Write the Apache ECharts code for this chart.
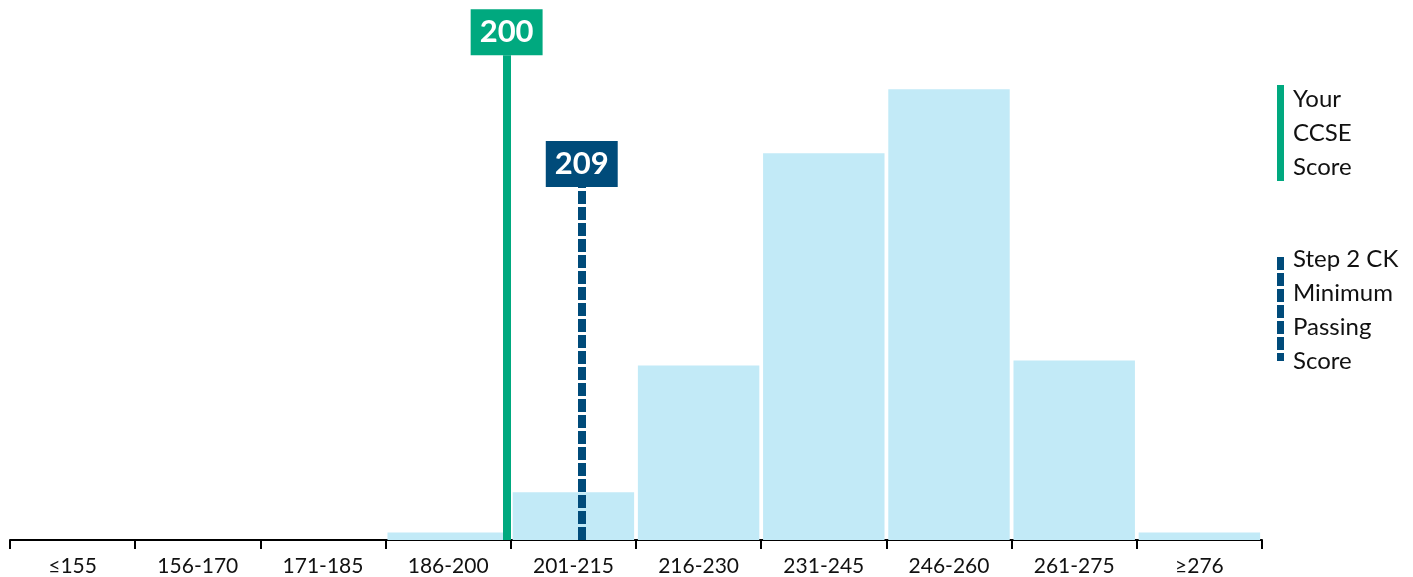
<!DOCTYPE html>
<html>
<head>
<meta charset="utf-8">
<script src="https://cdn.jsdelivr.net/npm/echarts@6/dist/echarts.min.js"></script>
<style>html,body{margin:0;padding:0;background:#fff}#c{width:1413px;height:577px}</style>
</head>
<body>
<div id="c"></div>
<script>
const categories = ['≤155','156-170','171-185','186-200','201-215','216-230','231-245','246-260','261-275','≥276'];
const percentages = [0,0,0,0.6,3.8,13.9,30.8,35.9,14.3,0.6];
const yourScore = 200;
const passingScore = 209;
const legendYour = 'Your\nCCSE\nScore';
const legendPassing = 'Step 2 CK\nMinimum\nPassing\nScore';

const GREEN = '#00A97F';
const NAVY = '#004B7A';
const FONT = 'Lato';

const chart = echarts.init(document.getElementById('c'));
chart.setOption({
  animation: false,
  textStyle: { fontFamily: FONT },
  grid: { left: 10, right: 151, top: 0, bottom: 36, containLabel: false },
  xAxis: [
    {
      type: 'category', data: categories, boundaryGap: true,
      axisLine: { lineStyle: { color: '#000', width: 2 } },
      axisTick: { show: true, length: 9, lineStyle: { color: '#000', width: 2 } },
      axisLabel: { color: '#111', fontSize: 21, fontFamily: FONT, margin: 16 }
    },
    { type: 'value', min: 140.5, max: 290.5, show: false }
  ],
  yAxis: { type: 'value', min: 0, max: 43, show: false },
  series: [
    {
      type: 'bar', data: percentages, xAxisIndex: 0, barCategoryGap: '3%',
      itemStyle: { color: '#C2EAF7' }, z: 1
    },
    {
      type: 'scatter', xAxisIndex: 1, data: [], z: 5,
      markLine: {
        silent: true, symbol: 'none',
        data: [
          [{ coord: [yourScore, 0] }, { coord: [yourScore, 38.6],
            lineStyle: { color: GREEN, width: 8, type: 'solid' },
            label: { show: true, position: 'end', formatter: String(yourScore), color: '#fff',
              backgroundColor: GREEN, fontSize: 31, fontWeight: 'bold', fontFamily: FONT,
              lineHeight: 36, padding: [5, 9, 5, 9], distance: 0 } }],
          [{ coord: [passingScore, 0] }, { coord: [passingScore, 28.1],
            lineStyle: { color: NAVY, width: 8, type: [13, 3] },
            label: { show: true, position: 'end', formatter: String(passingScore), color: '#fff',
              backgroundColor: NAVY, fontSize: 31, fontWeight: 'bold', fontFamily: FONT,
              lineHeight: 36, padding: [5, 9, 5, 9], distance: 0 } }]
        ]
      }
    }
  ],
  graphic: [
    { type: 'rect', shape: { x: 1277, y: 85, width: 7, height: 96 }, style: { fill: GREEN } },
    { type: 'line', shape: { x1: 1280.5, y1: 257, x2: 1280.5, y2: 361 },
      style: { stroke: NAVY, lineWidth: 7, lineDash: [13, 3] } },
    { type: 'text', x: 1293, y: 82, style: { text: legendYour, font: '24px Lato', fill: '#111', lineHeight: 34, verticalAlign: 'top' } },
    { type: 'text', x: 1293, y: 242, style: { text: legendPassing, font: '24px Lato', fill: '#111', lineHeight: 34, verticalAlign: 'top' } }
  ]
});
</script>
</body>
</html>
